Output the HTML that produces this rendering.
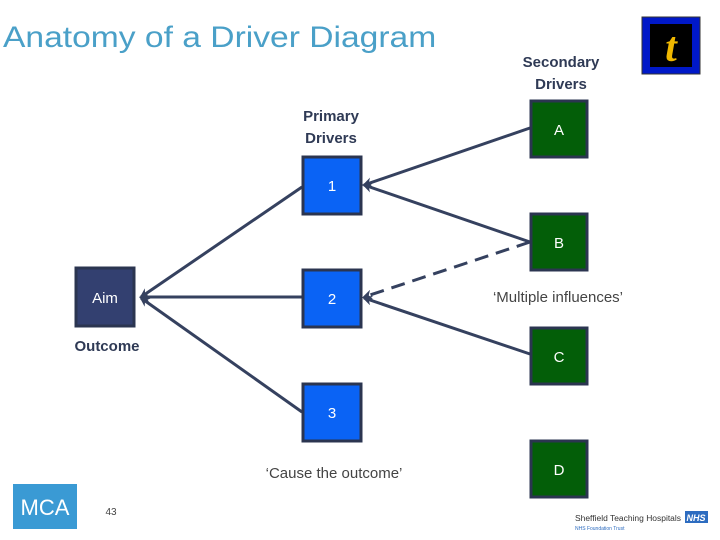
<!DOCTYPE html>
<html><head><meta charset="utf-8"><style>
body{margin:0;width:720px;height:540px;background:#fff;overflow:hidden;position:relative;font-family:"Liberation Sans",sans-serif}
.t{position:absolute;white-space:nowrap}
</style></head><body>
<div class="t" style="left:3px;top:21px;font-size:30px;color:#4aa0c8;font-family:'Liberation Sans',sans-serif;transform:scaleX(1.12);transform-origin:left">Anatomy of a Driver Diagram</div>
<svg width="720" height="540" style="position:absolute;left:0;top:0" font-family="Liberation Sans, sans-serif">
<defs><marker id="ar" markerWidth="10" markerHeight="10" refX="8" refY="5" orient="auto" markerUnits="userSpaceOnUse"><path d="M0,0 L10,5 L0,10 L3,5 Z" fill="#35415f"/></marker></defs>
<g stroke="#35415f" stroke-width="3" fill="none">
<line x1="302" y1="187" x2="141" y2="297" marker-end="url(#ar)"/>
<line x1="302" y1="297" x2="141" y2="297" marker-end="url(#ar)"/>
<line x1="302" y1="412" x2="141" y2="298" marker-end="url(#ar)"/>
<line x1="530" y1="128" x2="364" y2="185" marker-end="url(#ar)"/>
<line x1="530" y1="242" x2="364" y2="185" marker-end="url(#ar)"/>
<line x1="530" y1="242" x2="364" y2="297" stroke-dasharray="14,8" marker-end="url(#ar)"/>
<line x1="530" y1="354" x2="364" y2="298" marker-end="url(#ar)"/>
</g>
<g stroke="#2b3550" stroke-width="3">
<rect x="76" y="268" width="58" height="58" fill="#334070"/>
<rect x="303" y="157" width="58" height="57" fill="#0a63f5"/>
<rect x="303" y="270" width="58" height="57" fill="#0a63f5"/>
<rect x="303" y="384" width="58" height="57" fill="#0a63f5"/>
<rect x="531" y="101" width="56" height="56" fill="#035e08"/>
<rect x="531" y="214" width="56" height="56" fill="#035e08"/>
<rect x="531" y="328" width="56" height="56" fill="#035e08"/>
<rect x="531" y="441" width="56" height="56" fill="#035e08"/>
</g>
<g fill="#fff" font-size="15" text-anchor="middle">
<text x="105" y="303">Aim</text>
<text x="332" y="191">1</text><text x="332" y="304">2</text><text x="332" y="418">3</text>
<text x="559" y="135">A</text><text x="559" y="248">B</text><text x="559" y="362">C</text><text x="559" y="475">D</text>
</g>
<g fill="#2f3a55" font-size="15" font-weight="bold" text-anchor="middle">
<text x="331" y="121">Primary</text><text x="331" y="143">Drivers</text>
<text x="561" y="67">Secondary</text><text x="561" y="89">Drivers</text>
<text x="107" y="351">Outcome</text>
</g>
<g fill="#444" font-size="15" text-anchor="middle">
<text x="558" y="302">‘Multiple influences’</text>
<text x="334" y="478">‘Cause the outcome’</text>
</g>
<rect x="642" y="17" width="58" height="57" fill="#0018c8" stroke="#333" stroke-width="1"/>
<rect x="650" y="24" width="42" height="43" fill="#000"/>
<text x="671" y="61" fill="#f0b800" font-size="42" font-weight="bold" font-style="italic" text-anchor="middle" font-family="Liberation Serif, serif">t</text>
<rect x="13" y="484" width="64" height="45" fill="#3a9ad4"/>
<text x="45" y="515" fill="#fff" font-size="22" text-anchor="middle">MCA</text>
<text x="111" y="515" fill="#444" font-size="10" text-anchor="middle">43</text>
<text x="575" y="521" fill="#333" font-size="8" textLength="106" lengthAdjust="spacingAndGlyphs">Sheffield Teaching Hospitals</text>
<rect x="685" y="511" width="23" height="12" fill="#2d6cc0"/>
<text x="696" y="521" fill="#fff" font-size="9" font-weight="bold" font-style="italic" text-anchor="middle">NHS</text>
<text x="575" y="530" fill="#2d6cc0" font-size="5">NHS Foundation Trust</text>
</svg>
</body></html>
